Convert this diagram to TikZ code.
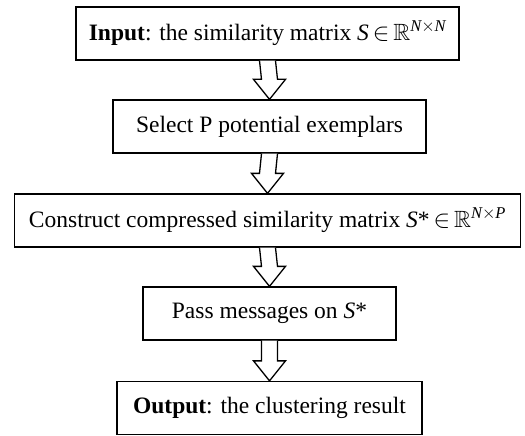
\documentclass[tikz,border=0pt]{standalone}
\usepackage{amsmath}
\usepackage{amssymb}
\usepackage{fontspec}
\setmainfont{Liberation Serif}
\usetikzlibrary{calc}

% hollow block arrow from the bottom of #1 to the top of #2
\newcommand{\hollowdown}[2]{%
\draw [line width=1.3pt, line join=miter, fill=white] ($(#1.south)+(-8,0)$) -- ($(#2.north)+(-8,-20)$) -- ($(#2.north)+(-16,-20)$) -- (#2.north) -- ($(#2.north)+(16,-20)$) -- ($(#2.north)+(8,-20)$) -- ($(#1.south)+(8,0)$) ;}

\begin{document}
\begin{tikzpicture}[x=1pt,y=1pt,yscale=-1,xscale=1,
  stepbox/.style={draw, line width=1.3pt, minimum height=53pt, inner sep=0pt, align=center},
  font=\fontsize{23.5}{28}\selectfont]
\useasboundingbox (0,0) rectangle (525,436);

%Shape: Rectangle [input]
\node [stepbox, minimum width=383pt] (input) at (267.5,33.5) {\textbf{Input}: the similarity matrix \textit{S}\,$\mathord{\in}$\,$\mathbb{R}^{\textit{N}\times\textit{N}}$};
%Shape: Rectangle [select]
\node [stepbox, minimum width=313pt] (select) at (269.5,126.5) {Select P potential exemplars};
%Shape: Rectangle [construct]
\node [stepbox, minimum width=506pt] (construct) at (267.5,220.5) {Construct compressed similarity matrix \textit{S}*\,$\mathord{\in}$\,$\mathbb{R}^{\textit{N}\times\textit{P}}$};
%Shape: Rectangle [pass]
\node [stepbox, minimum width=253pt] (pass) at (269.5,313.5) {Pass messages on \textit{S}*};
%Shape: Rectangle [output]
\node [stepbox, minimum width=305pt] (output) at (269.5,408) {\textbf{Output}: the clustering result};

%Block Arrows
\hollowdown{input}{select}
\hollowdown{select}{construct}
\hollowdown{construct}{pass}
\hollowdown{pass}{output}

\end{tikzpicture}
\end{document}
